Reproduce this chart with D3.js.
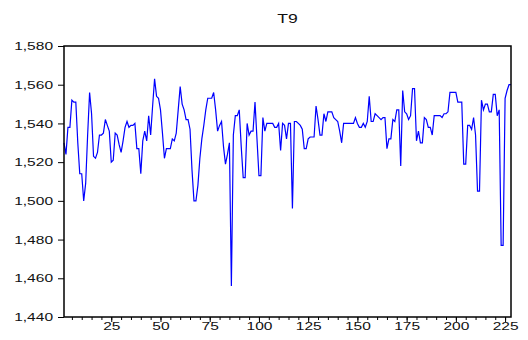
<!DOCTYPE html>
<html>
<head>
  <meta charset="utf-8">
  <title>T9</title>
  <style>
    body { margin: 0; background: #fff; }
    text { font-family: "Liberation Sans", Arial, sans-serif; }
  </style>
</head>
<body>
  <script src="https://d3js.org/d3.v7.min.js"></script>
  <script>
    var title = "T9";
    var yTicks = [1440, 1460, 1480, 1500, 1520, 1540, 1560, 1580];
    var xTicks = [25, 50, 75, 100, 125, 150, 175, 200, 225];

    var t9 = [
      1530, 1524, 1538, 1538, 1552, 1551, 1551, 1530, 1514, 1514,
      1500, 1509, 1534, 1556, 1545, 1523, 1522, 1525, 1534, 1534,
      1535, 1542, 1539, 1536, 1520, 1521, 1535, 1534, 1529, 1525,
      1531, 1538, 1541, 1538, 1539, 1539, 1540, 1527, 1527, 1514,
      1531, 1536, 1531, 1544, 1534, 1549, 1563, 1554, 1553, 1547,
      1535, 1522, 1527, 1527, 1527, 1532, 1531, 1535, 1547, 1559,
      1550, 1547, 1542, 1542, 1537, 1516, 1500, 1500, 1508, 1522,
      1532, 1539, 1547, 1553, 1553, 1553, 1556, 1547, 1536, 1539,
      1541, 1528, 1519, 1524, 1530, 1456, 1534, 1544, 1544, 1547,
      1528, 1512, 1512, 1540, 1534, 1536, 1536, 1551, 1532, 1513,
      1513, 1543, 1536, 1540, 1540, 1540, 1540, 1538, 1538, 1540,
      1526, 1540, 1539, 1532, 1540, 1540, 1496, 1541, 1541, 1540,
      1539, 1537, 1527, 1527, 1532, 1533, 1533, 1533, 1549, 1542,
      1534, 1534, 1545, 1541, 1546, 1546, 1546, 1543, 1542, 1541,
      1536, 1530, 1540, 1540, 1540, 1540, 1540, 1540, 1543, 1540,
      1538, 1538, 1540, 1538, 1541, 1554, 1541, 1541, 1545, 1544,
      1543, 1542, 1543, 1543, 1527, 1532, 1532, 1542, 1541, 1547,
      1547, 1518, 1557, 1546, 1545, 1542, 1544, 1558, 1558, 1531,
      1536, 1530, 1530, 1543, 1542, 1538, 1538, 1534, 1544, 1544,
      1544, 1544, 1543, 1545, 1545, 1546, 1556, 1556, 1556, 1556,
      1551, 1551, 1551, 1519, 1519, 1539, 1539, 1537, 1543, 1534,
      1505, 1505, 1552, 1547, 1550, 1550, 1546, 1546, 1555, 1555,
      1544, 1547, 1477, 1477, 1553, 1557, 1560, 1560
    ];

    var width = 528, height = 340;
    var margin = { top: 46, right: 17, bottom: 23, left: 64 };
    var w = width - margin.left - margin.right;
    var h = height - margin.top - margin.bottom;
    var stretch = 1.35; // the original lettering is wide

    var svg = d3.select("body").append("svg")
      .attr("width", width)
      .attr("height", height);

    var g = svg.append("g")
      .attr("transform", "translate(" + margin.left + "," + margin.top + ")");

    var x = d3.scaleLinear().domain([1, t9.length]).range([0, w]);
    var y = d3.scaleLinear().domain([1440, 1580]).range([h, 0]);

    function widen(sel) {
      sel.each(function() {
        var len = this.getComputedTextLength();
        d3.select(this)
          .attr("textLength", len * stretch)
          .attr("lengthAdjust", "spacingAndGlyphs");
      });
    }

    svg.append("text")
      .attr("x", margin.left + w / 2)
      .attr("y", 23)
      .attr("text-anchor", "middle")
      .style("font-size", "13px")
      .attr("fill", "#111")
      .text(title)
      .call(widen);

    // y axis
    var yAxis = g.append("g")
      .call(d3.axisLeft(y).tickValues(yTicks).tickSize(6).tickPadding(5)
        .tickFormat(d3.format(",")));
    yAxis.select(".domain").remove();
    yAxis.selectAll("text")
      .style("font-size", "11.5px")
      .attr("fill", "#111")
      .call(widen);

    // x axis: minor ticks every 5, labels every 25
    var minor = d3.range(5, t9.length + 1, 5);
    var xAxisMinor = g.append("g")
      .attr("transform", "translate(0," + h + ")")
      .call(d3.axisBottom(x).tickValues(minor).tickSize(3).tickFormat(""));
    xAxisMinor.select(".domain").remove();

    var xAxis = g.append("g")
      .attr("transform", "translate(0," + h + ")")
      .call(d3.axisBottom(x).tickValues(xTicks).tickSize(5).tickPadding(0));
    xAxis.select(".domain").remove();
    xAxis.selectAll("text")
      .style("font-size", "11.5px")
      .attr("fill", "#111")
      .attr("y", 5)
      .call(widen);

    // data line
    var line = d3.line()
      .x(function(d, i) { return x(i + 1); })
      .y(function(d) { return y(d); });

    g.append("path")
      .datum(t9)
      .attr("fill", "none")
      .attr("stroke", "#0000ff")
      .attr("stroke-width", 1.2)
      .attr("d", line);

    // frame
    g.append("rect")
      .attr("width", w)
      .attr("height", h)
      .attr("fill", "none")
      .attr("stroke", "#000")
      .attr("stroke-width", 1.5);
  </script>
</body>
</html>
